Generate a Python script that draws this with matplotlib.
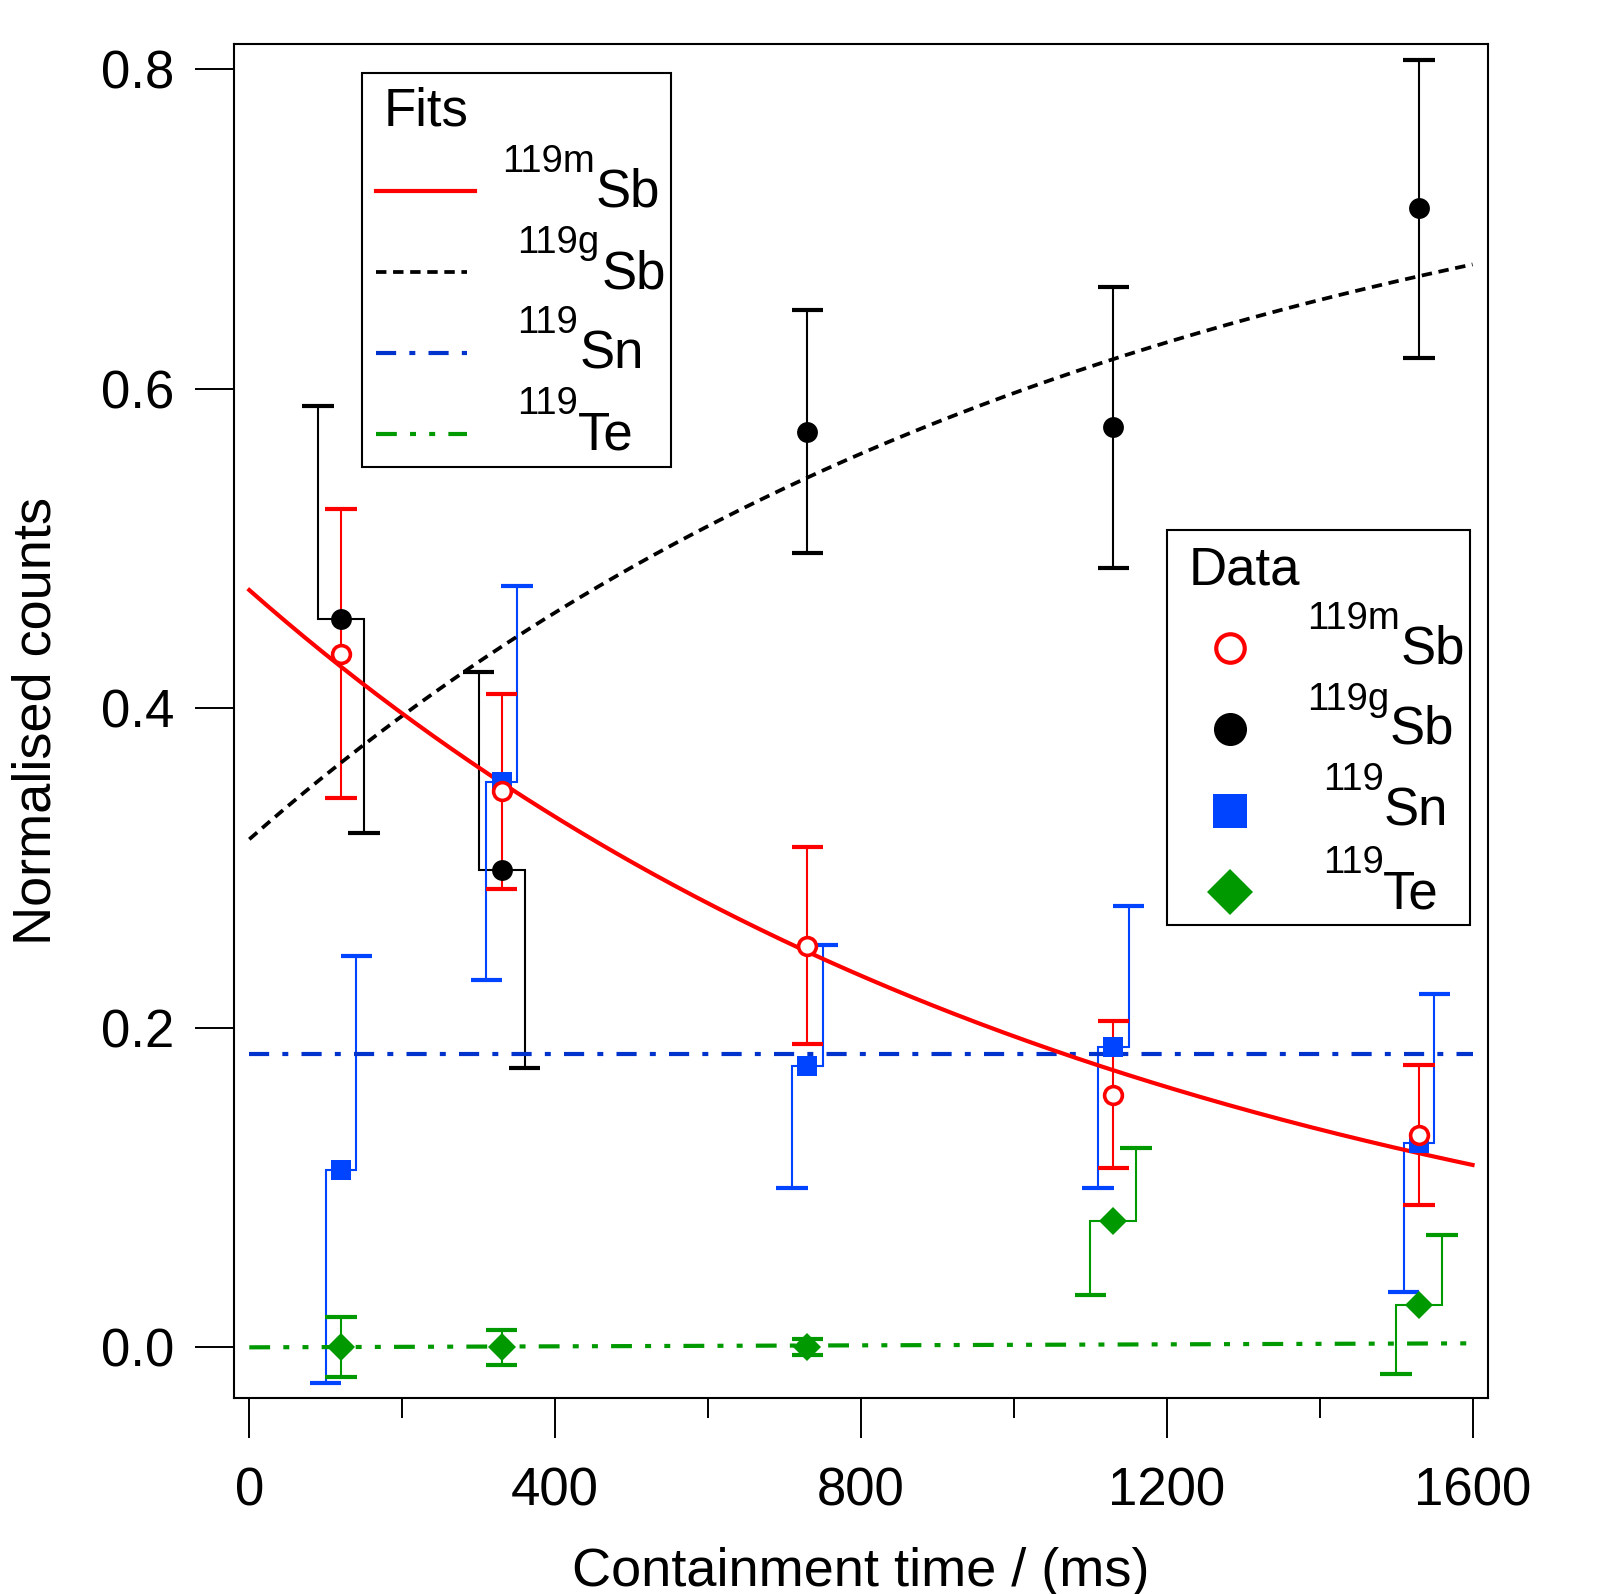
import numpy as np
import matplotlib
matplotlib.use("Agg")
import matplotlib.pyplot as plt
from matplotlib.lines import Line2D
from matplotlib.patches import Rectangle

plt.rcParams['font.family'] = ['Liberation Sans', 'DejaVu Sans']
plt.rcParams['lines.scale_dashes'] = False

# ---------------- data ----------------
containment_time = [120, 330, 730, 1130, 1530]

sbm_y = [0.434, 0.348, 0.251, 0.158, 0.133]
sbm_hi = [0.525, 0.409, 0.313, 0.204, 0.177]
sbm_lo = [0.344, 0.287, 0.190, 0.112, 0.089]

sbg_y = [0.456, 0.299, 0.573, 0.576, 0.713]
sbg_hi = [0.589, 0.4225, 0.649, 0.6635, 0.806]
sbg_lo = [0.322, 0.175, 0.497, 0.4876, 0.6195]

sn_y = [0.111, 0.354, 0.176, 0.188, 0.128]
sn_hi = [0.245, 0.4766, 0.2518, 0.276, 0.221]
sn_lo = [-0.0225, 0.230, 0.100, 0.0995, 0.0348]

te_y = [0.0, 0.0, 0.0, 0.079, 0.0265]
te_hi = [0.0192, 0.011, 0.005, 0.125, 0.0704]
te_lo = [-0.0184, -0.011, -0.005, 0.0327, -0.017]

# fit parameters
fit_sbm_amp = 0.474      # 119mSb at t = 0
fit_tau = 1124.0         # ms
fit_sbg_start = 0.318    # 119gSb at t = 0
fit_sbg_limit = 0.792    # 119gSb asymptote
fit_sn_level = 0.1834
fit_te_end = 0.0025      # 119Te fit at t = 1600
fit_range = [0, 1600]

xticks = [0, 400, 800, 1200, 1600]
xticks_minor = [200, 600, 1000, 1400]
yticks = [0.0, 0.2, 0.4, 0.6, 0.8]

# --------------- styles -----------------
RED = '#ff0000'
BLACK = '#000000'
BLUE = '#0044ff'
BLUE_FIT = '#0033cc'
GREEN = '#009900'

# horizontal offsets (ms) of upper / lower error-bar halves
sbm_shift_up, sbm_shift_lo = [0, 0, 0, 0, 0], [0, 0, 0, 0, 0]
sbg_shift_up, sbg_shift_lo = [-30, -30, 0, 0, 0], [30, 30, 0, 0, 0]
sn_shift_up, sn_shift_lo = [20, 20, 20, 20, 20], [-20, -20, -20, -20, -20]
te_shift_up, te_shift_lo = [0, 0, 0, 30, 30], [0, 0, 0, -30, -30]

W, H = 1609, 1594
fig = plt.figure(figsize=(W / 100, H / 100), dpi=100)
L, R, T, B = 234, 1488.3, 44, 1398.3
ax = fig.add_axes([L / W, 1 - B / H, (R - L) / W, (B - T) / H])
ax.set_xlim(-20, 1620.6)
ax.set_ylim(-0.0319, 0.8158)

CAP = 20.5  # ms half width of caps


def stepped_errorbars(x, y, hi, lo, su, sl, color, z=2):
    for xi, yi, h, l, u, d in zip(x, y, hi, lo, su, sl):
        ax.plot([xi + u, xi + u, xi + d, xi + d], [h, yi, yi, l], color=color,
                lw=1.5, solid_joinstyle='miter', zorder=z)
        ax.hlines([h, l], [xi + u - CAP, xi + d - CAP], [xi + u + CAP, xi + d + CAP],
                  color=color, lw=3.0, zorder=z, capstyle='butt')


stepped_errorbars(containment_time, sbg_y, sbg_hi, sbg_lo, sbg_shift_up, sbg_shift_lo, BLACK)
stepped_errorbars(containment_time, sn_y, sn_hi, sn_lo, sn_shift_up, sn_shift_lo, BLUE)
stepped_errorbars(containment_time, te_y, te_hi, te_lo, te_shift_up, te_shift_lo, GREEN)
stepped_errorbars(containment_time, sbm_y, sbm_hi, sbm_lo, sbm_shift_up, sbm_shift_lo, RED)

# fits
t = np.linspace(fit_range[0], fit_range[1], 400)
sbm_fit = fit_sbm_amp * np.exp(-t / fit_tau)
sbg_fit = fit_sbg_limit - (fit_sbg_limit - fit_sbg_start) * np.exp(-t / fit_tau)
sn_fit = np.full_like(t, fit_sn_level)
te_fit = fit_te_end * t / fit_range[1]

LW_FIT = 3.0
DOT = (0, (7.5, 4.8))
DASHDOT = (0, (14.5, 9.5, 4.3, 9.5))
DASHDOTDOT = (0, (15, 9.5, 4.3, 9.5, 4.3, 9.5))
ax.plot(t, sbg_fit, color=BLACK, lw=2.7, ls=DOT, zorder=3)
ax.plot(t, sn_fit, color=BLUE_FIT, lw=LW_FIT, ls=DASHDOT, zorder=3)
ax.plot(t, te_fit, color=GREEN, lw=LW_FIT, ls=DASHDOTDOT, zorder=3)
ax.plot(t, sbm_fit, color=RED, lw=LW_FIT, zorder=3)

# markers
ax.plot(containment_time, sn_y, ls='none', marker='s', ms=15, mfc=BLUE, mec=BLUE, mew=0, zorder=4)
ax.plot(containment_time, te_y, ls='none', marker='D', ms=14.5, mfc=GREEN, mec=GREEN, mew=0, zorder=4)
ax.plot(containment_time, sbg_y, ls='none', marker='o', ms=15, mfc=BLACK, mec=BLACK, mew=0, zorder=4)
ax.plot(containment_time, sbm_y, ls='none', marker='o', ms=12.8, mfc='white', mec=RED, mew=2.6, zorder=5)

# axes styling
ax.set_xticks(xticks)
ax.set_xticklabels([str(v) for v in xticks])
ax.set_xticks(xticks_minor, minor=True)
ax.set_yticks(yticks)
ax.set_yticklabels(['%.1f' % v for v in yticks])
ax.tick_params(axis='x', which='major', direction='out', length=28.8, width=1.4,
               pad=20, labelsize=38)
ax.tick_params(axis='x', which='minor', direction='out', length=14.2, width=1.4)
ax.tick_params(axis='y', which='major', direction='out', length=28, width=1.4,
               pad=15, labelsize=38)
for s in ax.spines.values():
    s.set_linewidth(1.5)


def fx(x):
    return x / W


def fy(y):
    return 1 - y / H


# axis labels
fig.text(fx(861), fy(1585.8), 'Containment time / (ms)', fontsize=39,
         ha='center', va='baseline')
fig.text(fx(51), fy(721), 'Normalised counts', fontsize=39, rotation=90,
         rotation_mode='anchor', ha='center', va='baseline')

SUP, MAIN = 27.5, 38

# Fits legend
fig.add_artist(Rectangle((fx(362), fy(467.3)), fx(670.7) - fx(362), fy(72.7) - fy(467.3),
                         transform=fig.transFigure, fill=True, fc='white', ec='black', lw=1.5, zorder=6))
fig.text(fx(384), fy(125), 'Fits', fontsize=MAIN, ha='left', va='baseline', zorder=7)
fits_rows = [
    (190.7, 475, dict(color=RED, lw=LW_FIT), '119m', 501.7, 171.7, 'Sb', 596, 206.7),
    (271.7, 467, dict(color=BLACK, lw=2.7, ls=DOT), '119g', 516.7, 252.7, 'Sb', 601.7, 288.3),
    (353.3, 467, dict(color=BLUE_FIT, lw=LW_FIT, ls=DASHDOT), '119', 516.7, 332.7, 'Sn', 580, 368.3),
    (434.3, 467, dict(color=GREEN, lw=LW_FIT, ls=DASHDOTDOT), '119', 516.7, 414, 'Te', 578.3, 450),
]
for ly, lx2, st, sup, sx, sy, main, mx, my in fits_rows:
    fig.add_artist(Line2D([fx(376), fx(lx2)], [fy(ly), fy(ly)], transform=fig.transFigure,
                          zorder=7, **st))
    fig.text(fx(sx), fy(sy), sup, fontsize=SUP, ha='left', va='baseline', zorder=7)
    fig.text(fx(mx), fy(my), main, fontsize=MAIN, ha='left', va='baseline', zorder=7)

# Data legend
fig.add_artist(Rectangle((fx(1167.3), fy(925)), fx(1470) - fx(1167.3), fy(530) - fy(925),
                         transform=fig.transFigure, fill=True, fc='white', ec='black', lw=1.5, zorder=6))
fig.text(fx(1189), fy(584), 'Data', fontsize=MAIN, ha='left', va='baseline', zorder=7)
data_rows = [
    (647.7, dict(marker='o', ms=20.5, mfc='white', mec=RED, mew=3.0), '119m', 1306.7, 629.3, 'Sb', 1400.7, 664),
    (729.3, dict(marker='o', ms=23.8, mfc=BLACK, mec=BLACK, mew=0), '119g', 1306.7, 710, 'Sb', 1390, 744),
    (810.7, dict(marker='s', ms=23.8, mfc=BLUE, mec=BLUE, mew=0), '119', 1322.7, 790, 'Sn', 1384, 826),
    (891.7, dict(marker='D', ms=23.8, mfc=GREEN, mec=GREEN, mew=0), '119', 1322.7, 872.7, 'Te', 1382.7, 908.3),
]
for my_, st, sup, sx, sy, main, mx, my in data_rows:
    fig.add_artist(Line2D([fx(1230)], [fy(my_)], transform=fig.transFigure, ls='none',
                          zorder=7, **st))
    fig.text(fx(sx), fy(sy), sup, fontsize=SUP, ha='left', va='baseline', zorder=7)
    fig.text(fx(mx), fy(my), main, fontsize=MAIN, ha='left', va='baseline', zorder=7)

fig.savefig('out.png', dpi=100, facecolor='white')
